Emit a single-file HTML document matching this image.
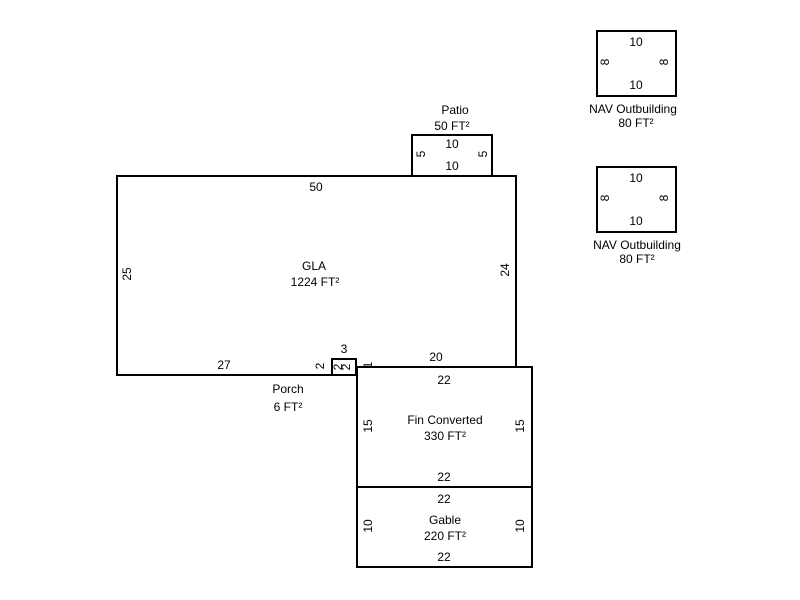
<!DOCTYPE html>
<html><head><style>body{margin:0;background:#fff}svg{display:block}text{font-family:"Liberation Sans",sans-serif;font-size:12px;fill:#000}</style></head><body>
<svg width="800" height="600" viewBox="0 0 800 600">
<g fill="none" stroke="#000" stroke-width="2">
<polyline points="332,375 117,375 117,176 516,176 516,367"/>
<rect x="412" y="135" width="80" height="41"/>
<rect x="357" y="367" width="175" height="120"/>
<rect x="357" y="487" width="175" height="80"/>
<rect x="332" y="359" width="24" height="16"/>
<rect x="597" y="31" width="79" height="65"/>
<rect x="597" y="167" width="79" height="65"/>
</g>
<g text-anchor="middle">
<text x="455" y="114">Patio</text><text x="452" y="130">50 FT²</text>
<text x="452" y="148">10</text><text x="452" y="170">10</text>
<text x="316" y="191">50</text>
<text x="314" y="270">GLA</text><text x="315" y="286">1224 FT²</text>
<text x="224" y="369">27</text><text x="436" y="361">20</text>
<text x="344" y="353">3</text>
<text x="288" y="393">Porch</text><text x="288" y="411">6 FT²</text>
<text x="444" y="384">22</text>
<text x="445" y="424">Fin Converted</text><text x="445" y="440">330 FT²</text>
<text x="444" y="481">22</text><text x="444" y="503">22</text>
<text x="445" y="524">Gable</text><text x="445" y="540">220 FT²</text>
<text x="444" y="561">22</text>
<text x="636" y="46">10</text><text x="636" y="89">10</text>
<text x="633" y="113">NAV Outbuilding</text><text x="636" y="127">80 FT²</text>
<text x="636" y="182">10</text><text x="636" y="225">10</text>
<text x="637" y="249">NAV Outbuilding</text><text x="637" y="263">80 FT²</text>
<text transform="translate(131,274) rotate(-90)">25</text>
<text transform="translate(509,270) rotate(-90)">24</text>
<text transform="translate(425,154) rotate(-90)">5</text>
<text transform="translate(487,154) rotate(-90)">5</text>
<text transform="translate(324,366) rotate(-90)">2</text>
<text transform="translate(342,367) rotate(-90)">2</text>
<text transform="translate(350,367) rotate(-90)">2</text>
<text transform="translate(372,365) rotate(-90)">1</text>
<text transform="translate(372,426) rotate(-90)">15</text>
<text transform="translate(524,426) rotate(-90)">15</text>
<text transform="translate(372,526) rotate(-90)">10</text>
<text transform="translate(524,526) rotate(-90)">10</text>
<text transform="translate(609,62) rotate(-90)">8</text>
<text transform="translate(668,62) rotate(-90)">8</text>
<text transform="translate(609,198) rotate(-90)">8</text>
<text transform="translate(668,198) rotate(-90)">8</text>
</g>
</svg>
</body></html>
